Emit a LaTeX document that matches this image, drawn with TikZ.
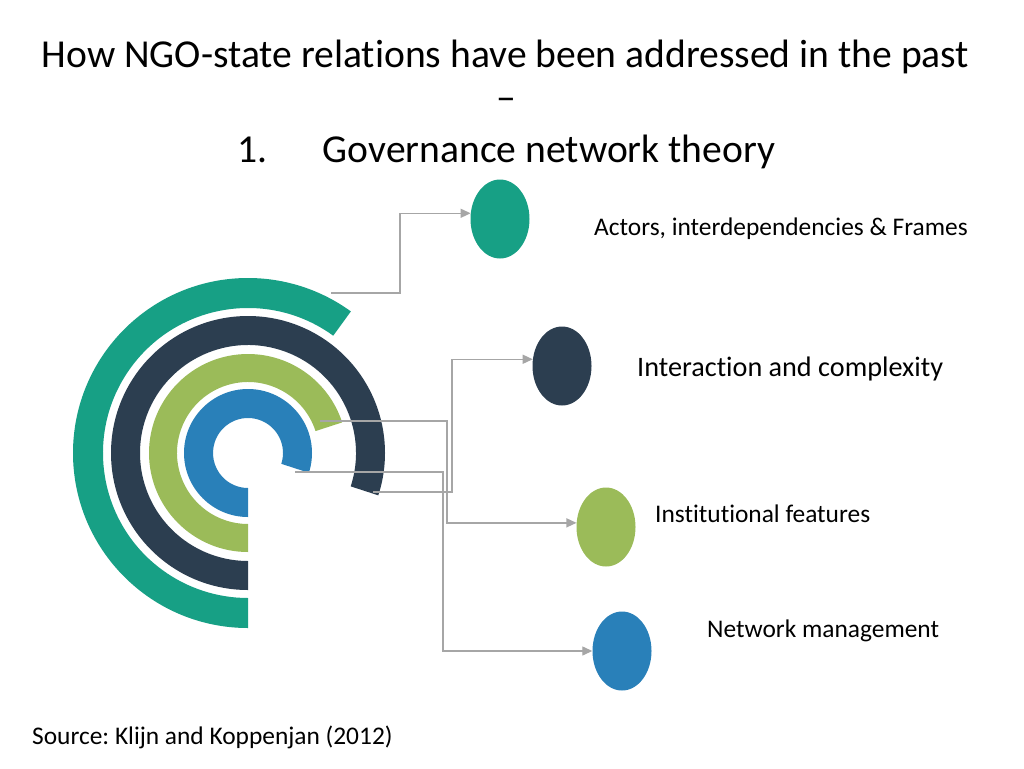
\documentclass[tikz,border=0pt]{standalone}
\usepackage{fontspec}
\setmainfont{Carlito}[RawFeature=-liga]
\frenchspacing
\usetikzlibrary{shapes.geometric,arrows.meta,calc}
\definecolor{cteal}{HTML}{17A085}
\definecolor{cnavy}{HTML}{2C3E50}
\definecolor{cgreen}{HTML}{9BBB59}
\definecolor{cblue}{HTML}{2980B9}
\definecolor{cline}{HTML}{A6A6A6}
\tikzset{
  dot/.style={ellipse, minimum width=59pt, minimum height=79pt, inner sep=0pt, draw=none},
  conn/.style={draw=cline, line width=1.3pt, -{Triangle[length=10pt,width=9pt]}},
  lbl/.style={anchor=base west, inner sep=0pt, text=black},
  ttl/.style={anchor=base, inner sep=0pt, text=black, font=\fontsize{39.6}{46}\selectfont},
}
\begin{document}
\begin{tikzpicture}[x=1pt,y=-1pt]
\useasboundingbox (0,0) rectangle (1024,768);
\fill[white] (0,0) rectangle (1024,768);
% title
\node[ttl] (t1) at (505.5,67) {How NGO-state relations have been addressed in the past};
\node[ttl] (t2) at (506,110) {–};
\node[ttl] (t3) at (506.5,162) {1.\hspace*{55pt}Governance network theory};
% rings
\coordinate (c) at (248,453);
\newcommand{\ringsector}[5]{%
  \fill[#1] ($(c)+(#2:#5)$) arc[start angle=#2, end angle=#3, radius=#5]
    -- ($(c)+(#3:#4)$) arc[start angle=#3, end angle=#2, radius=#4] -- cycle;}
\ringsector{cteal}{-270}{-54}{145}{175}
\ringsector{cnavy}{-270}{18}{108}{137}
\ringsector{cgreen}{-270}{-18}{71}{99}
\ringsector{cblue}{-270}{18}{35}{64}
% dots
\node[dot, fill=cteal] (e1) at (500,219) {};
\node[dot, fill=cnavy] (e2) at (562,366) {};
\node[dot, fill=cgreen] (e3) at (606,527) {};
\node[dot, fill=cblue] (e4) at (622,651) {};
% labels
\node[lbl, font=\fontsize{25.4}{29}\selectfont] (l1) at (594,235) {Actors, interdependencies \& Frames};
\node[lbl, font=\fontsize{28.2}{32}\selectfont] (l2) at (637,376) {Interaction and complexity};
\node[lbl, font=\fontsize{25.4}{29}\selectfont] (l3) at (655,522) {Institutional features};
\node[lbl, font=\fontsize{25.4}{29}\selectfont] (l4) at (707,637) {Network management};
\node[lbl, font=\fontsize{25.4}{29}\selectfont] (src) at (32,744) {Source: Klijn and Koppenjan (2012)};
% connector starts and bend columns
\coordinate (s1) at (331,293);
\coordinate (s2) at (373,492);
\coordinate (s3) at (320,421);
\coordinate (s4) at (295,472);
\coordinate (v1) at (400,0);
\coordinate (v2) at (452,0);
\coordinate (v3) at (447,0);
\coordinate (v4) at (443,0);
\draw[conn] (s1) -| (v1 |- e1.169) -- (e1.169);
\draw[conn] (s2) -| (v2 |- e2.167) -- (e2.167);
\draw[conn] (s3) -| (v3 |- e3.172) -- (e3.172);
\draw[conn] (s4) -| (v4 |- e4.west) -- (e4.west);
\end{tikzpicture}
\end{document}
